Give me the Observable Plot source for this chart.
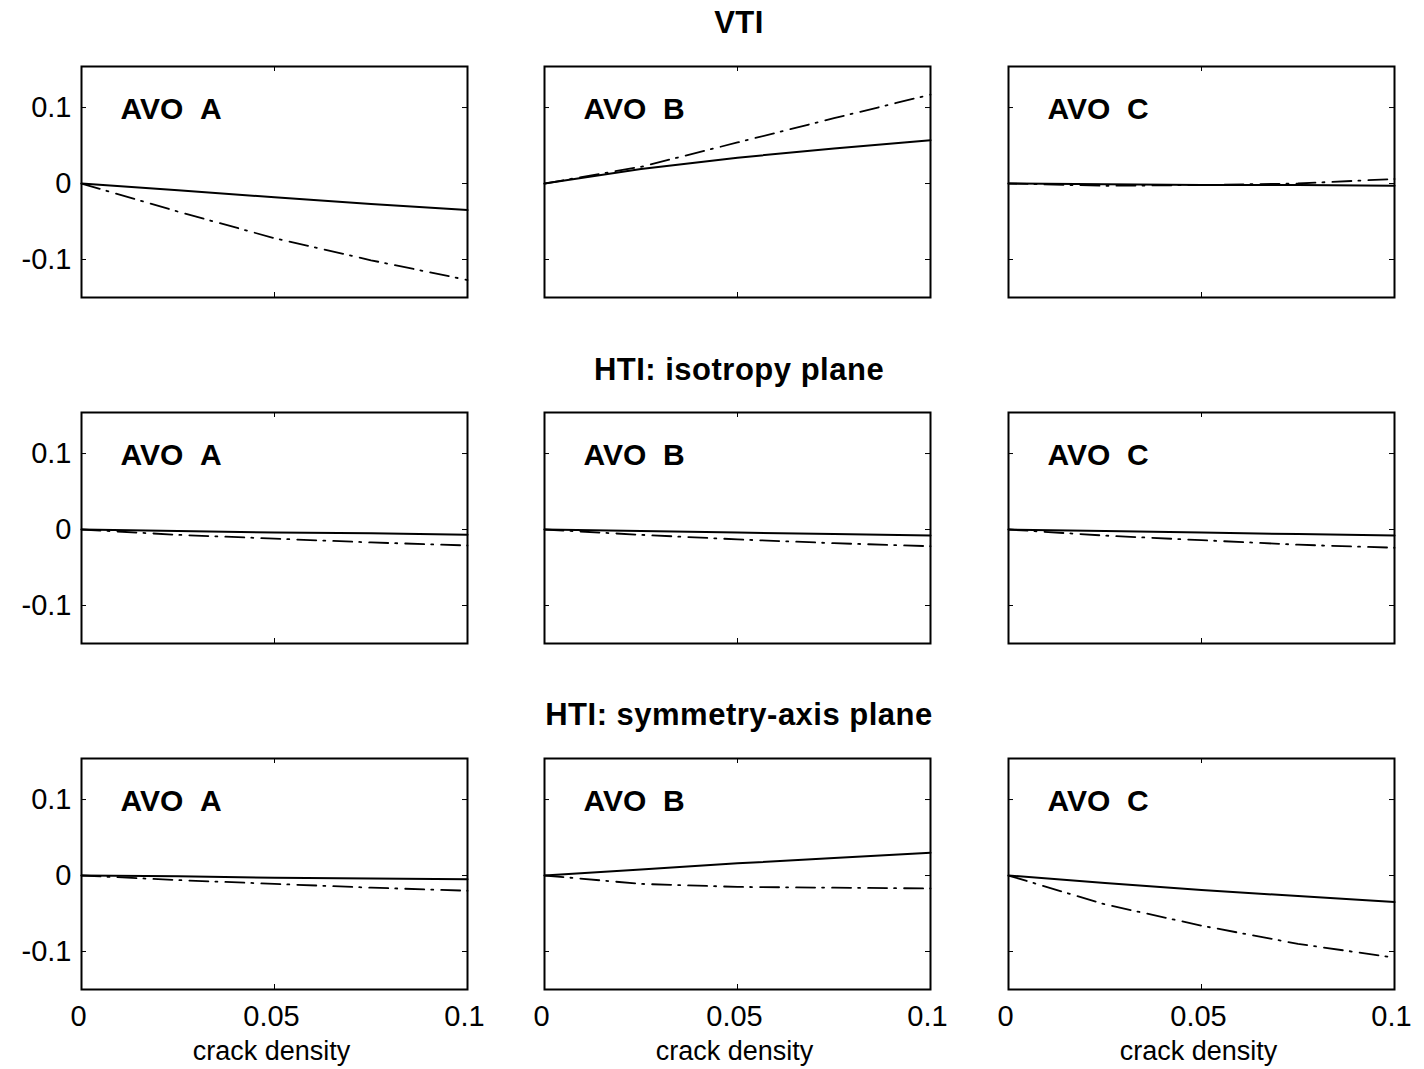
<!DOCTYPE html>
<html><head><meta charset="utf-8">
<script src="https://cdn.jsdelivr.net/npm/d3@7"></script>
<script src="https://cdn.jsdelivr.net/npm/@observablehq/plot@0.6"></script>
<style>
body{margin:0;background:#fff;}
#wrap{position:relative;width:1424px;height:1069px;font-family:"Liberation Sans",Arial,sans-serif;overflow:hidden;}
.title{position:absolute;font-weight:bold;font-size:31px;transform:translateX(-50%);white-space:nowrap;line-height:31px;color:#000;letter-spacing:0.5px}
.panel{position:absolute}
</style></head><body><div id="wrap"></div>
<script>
// ---- data ----
const crackDensity = [0, 0.025, 0.05, 0.075, 0.1];
const rowTitles = ["VTI", "HTI: isotropy plane", "HTI: symmetry-axis plane"];
const panelLabels = ["AVO\u00a0\u00a0A", "AVO\u00a0\u00a0B", "AVO\u00a0\u00a0C"];
const xTicks = [0, 0.05, 0.1];
const xTickLabels = ["0", "0.05", "0.1"];
const yTicks = [-0.1, 0, 0.1];
const yTickLabels = ["-0.1", "0", "0.1"];
const xLabel = "crack density";

// VTI
const vtiA_solid   = [0, -0.009, -0.018, -0.027, -0.035];
const vtiA_dashdot = [0, -0.037, -0.072, -0.101, -0.127];
const vtiB_solid   = [0, 0.019, 0.034, 0.046, 0.057];
const vtiB_dashdot = [0, 0.022, 0.054, 0.086, 0.117];
const vtiC_solid   = [0, -0.001, -0.002, -0.002, -0.003];
const vtiC_dashdot = [0, -0.003, -0.002, 0.000, 0.006];
// HTI isotropy plane
const isoA_solid   = [0, -0.002, -0.004, -0.005, -0.007];
const isoA_dashdot = [0, -0.007, -0.012, -0.017, -0.021];
const isoB_solid   = [0, -0.002, -0.004, -0.006, -0.008];
const isoB_dashdot = [0, -0.007, -0.013, -0.018, -0.022];
const isoC_solid   = [0, -0.002, -0.004, -0.006, -0.008];
const isoC_dashdot = [0, -0.008, -0.014, -0.020, -0.024];
// HTI symmetry-axis plane
const symA_solid   = [0, -0.001, -0.003, -0.004, -0.005];
const symA_dashdot = [0, -0.006, -0.011, -0.016, -0.020];
const symB_solid   = [0, 0.008, 0.016, 0.023, 0.030];
const symB_dashdot = [0, -0.011, -0.015, -0.016, -0.017];
const symC_solid   = [0, -0.010, -0.019, -0.027, -0.035];
const symC_dashdot = [0, -0.038, -0.066, -0.090, -0.108];

const grid = [
  [[vtiA_solid, vtiA_dashdot], [vtiB_solid, vtiB_dashdot], [vtiC_solid, vtiC_dashdot]],
  [[isoA_solid, isoA_dashdot], [isoB_solid, isoB_dashdot], [isoC_solid, isoC_dashdot]],
  [[symA_solid, symA_dashdot], [symB_solid, symB_dashdot], [symC_solid, symC_dashdot]]
];

// ---- layout ----
const colLeft = [81, 544, 1008];
const rowTop = [66, 412, 758];
const titleTop = [7, 354, 699];
const titleCenter = 739;
const W = 386, H = 231;
const mL = 80, mR = 30, mT = 20, mB = 80;
const font = '"Liberation Sans", Arial, sans-serif';

const wrap = document.getElementById("wrap");

rowTitles.forEach((t, r) => {
  const d = document.createElement("div");
  d.className = "title";
  d.textContent = t;
  d.style.left = titleCenter + "px";
  d.style.top = titleTop[r] + "px";
  wrap.appendChild(d);
});

for (let r = 0; r < 3; r++) {
  for (let c = 0; c < 3; c++) {
    const [solid, dashdot] = grid[r][c];
    const solidData = crackDensity.map((x, i) => ({x, y: solid[i]}));
    const dashData = crackDensity.map((x, i) => ({x, y: dashdot[i]}));
    const marks = [
      Plot.line(solidData, {x: "x", y: "y", stroke: "black", strokeWidth: 2}),
      Plot.line(dashData, {x: "x", y: "y", stroke: "black", strokeWidth: 1.8, strokeDasharray: "19,7,2,8"}),
      Plot.tickX(xTicks, {x: d => d, insetTop: H - 5, stroke: "black", strokeWidth: 1}),
      Plot.tickX(xTicks, {x: d => d, insetBottom: H - 5, stroke: "black", strokeWidth: 1}),
      Plot.tickY(yTicks, {y: d => d, insetRight: W - 5, stroke: "black", strokeWidth: 1}),
      Plot.tickY(yTicks, {y: d => d, insetLeft: W - 5, stroke: "black", strokeWidth: 1}),
      Plot.frame({stroke: "black", strokeWidth: 2}),
      Plot.text([panelLabels[c]], {frameAnchor: "top-left", dx: 39, dy: 52, lineAnchor: "bottom", textAnchor: "start", fontSize: 30, fontWeight: "bold", fill: "black", letterSpacing: "2.5px"})
    ];
    if (c === 0) {
      marks.push(Plot.axisY(yTicks, {tickSize: 0, tickPadding: 10, fontSize: 29, tickFormat: d => yTickLabels[yTicks.indexOf(d)], label: null, fill: "black"}));
    }
    if (r === 2) {
      marks.push(Plot.axisX(xTicks, {tickSize: 0, tickPadding: 16, dx: -3, fontSize: 29, tickFormat: d => xTickLabels[xTicks.indexOf(d)], label: null, fill: "black"}));
      marks.push(Plot.text([xLabel], {frameAnchor: "bottom", dy: 70, dx: -3, lineAnchor: "bottom", fontSize: 27, fill: "black"}));
    }
    const svg = Plot.plot({
      width: mL + W + mR,
      height: mT + H + mB,
      marginLeft: mL, marginRight: mR, marginTop: mT, marginBottom: mB,
      x: {domain: [0, 0.1], axis: null},
      y: {domain: [-0.15, 0.154], axis: null},
      style: {background: "transparent", fontFamily: font, color: "black", overflow: "visible"},
      marks
    });
    svg.classList.add("panel");
    svg.style.position = "absolute";
    svg.style.left = (colLeft[c] - mL) + "px";
    svg.style.top = (rowTop[r] - mT) + "px";
    wrap.appendChild(svg);
  }
}
</script>
</body></html>
